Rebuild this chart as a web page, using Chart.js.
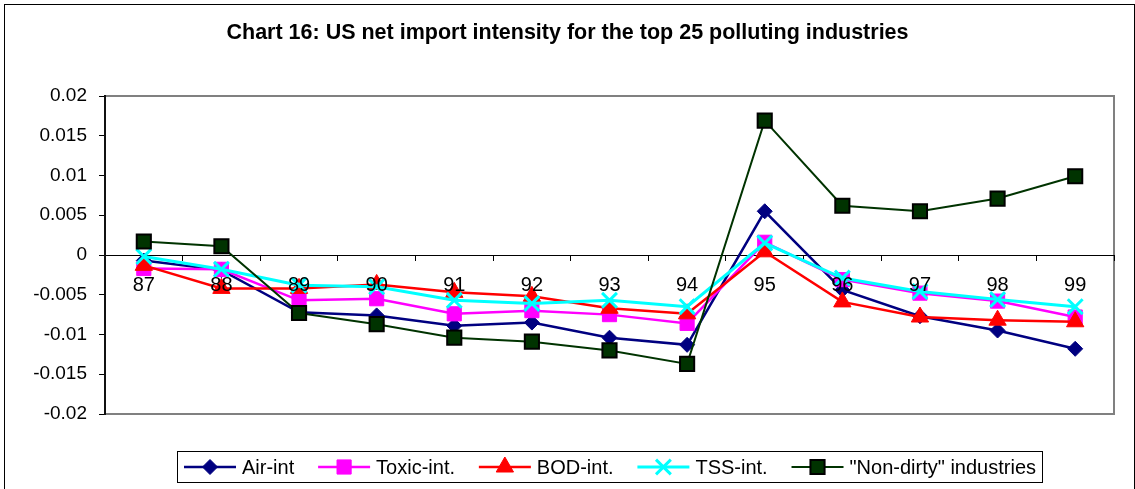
<!DOCTYPE html>
<html>
<head>
<meta charset="utf-8">
<title>US net import intensity</title>
<script src="https://cdn.jsdelivr.net/npm/chart.js@4.4.0/dist/chart.umd.min.js"></script>
<style>
  html, body { margin: 0; padding: 0; background: #fff; }
  #wrap { width: 1135px; height: 489px; }
</style>
</head>
<body>
<div id="wrap"><canvas id="c" width="1135" height="489"></canvas></div>
<script>
// Years on the category axis
const years = ['87', '88', '89', '90', '91', '92', '93', '94', '95', '96', '97', '98', '99'];

// Net import intensity per year
const airInt   = [-0.0007, -0.0019, -0.0072, -0.0076, -0.0089, -0.0085, -0.0104, -0.0113, 0.0055, -0.0044, -0.0077, -0.0095, -0.0118];
const toxicInt = [-0.0017, -0.0018, -0.0057, -0.0055, -0.0074, -0.0070, -0.0075, -0.0086, 0.0016, -0.0031, -0.0048, -0.0058, -0.0078];
const bodInt   = [-0.0013, -0.0042, -0.0042, -0.0037, -0.0047, -0.0052, -0.0067, -0.0074, 0.0004, -0.0059, -0.0078, -0.0082, -0.0084];
const tssInt   = [-0.0002, -0.0018, -0.0038, -0.0040, -0.0057, -0.0061, -0.0057, -0.0065, 0.0015, -0.0029, -0.0046, -0.0056, -0.0065];
const nonDirty = [0.0017, 0.0011, -0.0073, -0.0087, -0.0104, -0.0109, -0.0120, -0.0137, 0.0169, 0.0062, 0.0055, 0.0071, 0.0099];

// Value axis tick labels, bottom to top
const yTickLabels = ['-0.02', '-0.015', '-0.01', '-0.005', '0', '0.005', '0.01', '0.015', '0.02'];

const seriesNames = ['Air-int', 'Toxic-int.', 'BOD-int.', 'TSS-int.', '"Non-dirty" industries'];
const chartTitle = 'Chart 16: US net import intensity for the top 25 polluting industries';

const FONT = '"Liberation Sans", Arial, Helvetica, sans-serif';

function lineSeries(label, data, color, style) {
  return Object.assign({
    label: label,
    data: data,
    borderColor: color,
    backgroundColor: color,
    pointBackgroundColor: color,
    pointBorderColor: color,
    borderWidth: 2.5,
    pointBorderWidth: 1,
    tension: 0,
    fill: false
  }, style);
}

const datasets = [
  lineSeries(seriesNames[0], airInt, '#000080', { pointStyle: 'rectRot', pointRadius: 7.5, order: 5 }),
  lineSeries(seriesNames[1], toxicInt, '#FF00FF', { pointStyle: 'rect', pointRadius: 10, order: 4 }),
  lineSeries(seriesNames[2], bodInt, '#FF0000', { pointStyle: 'triangle', pointRadius: 10, order: 3 }),
  lineSeries(seriesNames[3], tssInt, '#00FFFF', { pointStyle: 'crossRot', pointRadius: 10.5, pointBorderWidth: 3, borderWidth: 3, order: 2 }),
  lineSeries(seriesNames[4], nonDirty, '#003300', { pointStyle: 'rect', pointRadius: 10, pointBorderColor: '#000000', pointBorderWidth: 2, borderWidth: 2, order: 1 })
];

// Background, frames, title and the boxed legend
const decorations = {
  id: 'decorations',
  beforeDraw(chart) {
    const ctx = chart.ctx;
    const a = chart.chartArea;
    ctx.save();
    ctx.fillStyle = '#ffffff';
    ctx.fillRect(0, 0, chart.width, chart.height);
    // outer frame
    ctx.strokeStyle = '#000000';
    ctx.lineWidth = 1;
    ctx.strokeRect(4.5, 4.5, 1130, 600);
    // plot area frame
    ctx.strokeStyle = '#808080';
    ctx.lineWidth = 2;
    ctx.strokeRect(a.left, a.top, a.right - a.left, a.bottom - a.top);
    ctx.restore();
  },
  afterDraw(chart) {
    const ctx = chart.ctx;
    ctx.save();
    // title
    ctx.fillStyle = '#000000';
    ctx.font = 'bold 21.5px ' + FONT;
    ctx.textAlign = 'center';
    ctx.textBaseline = 'alphabetic';
    ctx.fillText(chartTitle, chart.width / 2, 39);

    // legend
    const box = { left: 177, right: 1042, top: 451, bottom: 482 };
    ctx.strokeStyle = '#000000';
    ctx.lineWidth = 1;
    ctx.strokeRect(box.left + 0.5, box.top + 0.5, box.right - box.left, box.bottom - box.top);

    ctx.font = '20px ' + FONT;
    const sample = 52, gap = 6, padL = 7, padR = 6;
    const dsets = chart.data.datasets;
    const widths = dsets.map(d => ctx.measureText(d.label).width);
    const used = widths.reduce((s, w) => s + sample + gap + w, 0);
    const spacing = (box.right - box.left - padL - padR - used) / (dsets.length - 1);
    const cy = (box.top + box.bottom) / 2 + 0.5;
    let x = box.left + padL;
    dsets.forEach((d, i) => {
      ctx.strokeStyle = d.borderColor;
      ctx.lineWidth = d.borderWidth;
      ctx.beginPath();
      ctx.moveTo(x, cy);
      ctx.lineTo(x + sample, cy);
      ctx.stroke();
      ctx.fillStyle = d.pointBackgroundColor;
      ctx.strokeStyle = d.pointBorderColor;
      ctx.lineWidth = d.pointBorderWidth;
      Chart.helpers.drawPoint(ctx, {
        pointStyle: d.pointStyle,
        radius: d.pointRadius,
        rotation: 0,
        borderWidth: d.pointBorderWidth
      }, x + sample / 2, cy);
      ctx.fillStyle = '#000000';
      ctx.textAlign = 'left';
      ctx.textBaseline = 'middle';
      ctx.fillText(d.label, x + sample + gap, cy + 1);
      x += sample + gap + widths[i] + spacing;
    });
    ctx.restore();
  }
};

new Chart(document.getElementById('c'), {
  type: 'line',
  data: { labels: years, datasets: datasets },
  options: {
    responsive: false,
    animation: false,
    devicePixelRatio: 1,
    layout: { padding: { left: 0, top: 96, right: 21, bottom: 75 } },
    plugins: {
      legend: { display: false },
      title: { display: false },
      tooltip: { enabled: false }
    },
    scales: {
      x: {
        type: 'category',
        position: { y: 0 },
        offset: true,
        grid: { display: true, drawOnChartArea: false, drawTicks: true, tickLength: 5, color: '#000000', offset: true },
        border: { display: true, color: '#000000', width: 1 },
        ticks: { z: 1, color: '#000000', font: { family: FONT, size: 20 }, padding: 13, maxRotation: 0, autoSkip: false },
        afterFit(scale) { scale.height = 0; }
      },
      y: {
        type: 'linear',
        min: -0.02,
        max: 0.02,
        grid: { display: true, drawOnChartArea: false, drawTicks: true, tickLength: 6, color: '#000000' },
        border: { display: true, color: '#111111', width: 2 },
        ticks: {
          stepSize: 0.005,
          color: '#000000',
          font: { family: FONT, size: 19 },
          padding: 12,
          callback: (v, i) => yTickLabels[i]
        },
        afterFit(scale) { scale.width = 105; }
      }
    }
  },
  plugins: [decorations]
});
</script>
</body>
</html>
